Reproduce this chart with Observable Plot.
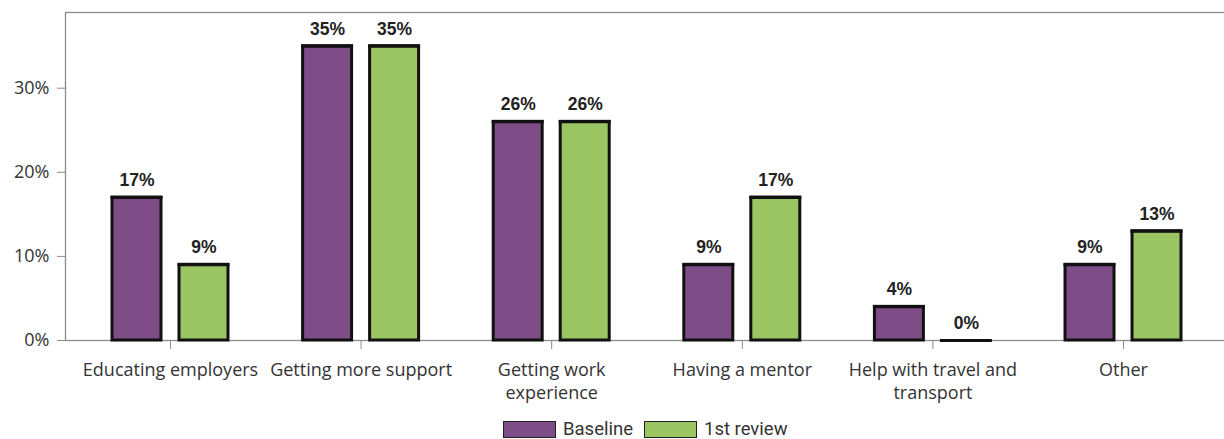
<!DOCTYPE html>
<html>
<head>
<meta charset="utf-8">
<script src="https://cdn.jsdelivr.net/npm/d3@7"></script>
<script src="https://cdn.jsdelivr.net/npm/@observablehq/plot@0.6"></script>
<style>
  html, body { margin: 0; padding: 0; background: #fff; overflow: hidden; }
  #chart { width: 1228px; }
  #chart svg { max-width: none; }
  .legend { display: flex; align-items: center; justify-content: flex-start; padding-left: 503px; padding-top: 4px; height: 26px;
            font-family: Roboto, "Open Sans", sans-serif; font-size: 18.5px; color: #333; }
  .legend .sw { width: 51px; height: 15px; border: 1px solid #222; margin-right: 7px; }
  .legend .item { display: flex; align-items: center; margin-right: 11px; }
</style>
</head>
<body>
<div id="chart"></div>
<script>
const categories = ["Educating employers", "Getting more support", "Getting work experience", "Having a mentor", "Help with travel and transport", "Other"];
const tickLabels = ["Educating employers", "Getting more support", "Getting work\nexperience", "Having a mentor", "Help with travel and\ntransport", "Other"];
const baseline = [17, 35, 26, 9, 4, 9];
const review = [9, 35, 26, 17, 0, 13];
const seriesNames = ["Baseline", "1st review"];
const colors = ["#7e4c86", "#9bc462"];
const yTicks = [0, 10, 20, 30];

const data = categories.map((c, i) => ({category: c, baseline: baseline[i], review: review[i]}));
const labelOf = new Map(categories.map((c, i) => [c, tickLabels[i]]));
const off = 33.5;

const barOpts = (key, color, dx) => [
  Plot.barY(data, {x: "category", y: key, fill: color, stroke: "#111", strokeWidth: 3, dx}),
  Plot.tickY(data, {x: "category", y: key, stroke: "#111", strokeWidth: 3, strokeLinecap: "square", dx}),
  Plot.text(data, {x: "category", y: key, text: d => d[key] + "%", dx, dy: -17,
    fontWeight: "bold", fontSize: 17.5, fill: "#222", fontFamily: "'Liberation Sans', Arial, sans-serif"})
];

const plot = Plot.plot({
  width: 1228,
  height: 412,
  marginLeft: 65,
  marginRight: 3,
  marginTop: 12,
  marginBottom: 72,
  style: {fontFamily: "'Open Sans', sans-serif", fontSize: "18px", color: "#333", background: "#fff", maxWidth: "none"},
  x: {domain: categories, paddingInner: 0.743, paddingOuter: 0.4145, align: 0.5095, round: false, label: null, axis: null},
  y: {domain: [0, 39], label: null, axis: null},
  marks: [
    Plot.frame({stroke: "#8c8c8c", strokeWidth: 1.3}),
    Plot.axisY({ticks: yTicks, tickFormat: d => d + "%", tickSize: 8, tickPadding: 8, stroke: "#8c8c8c", fill: "#333", label: null, fontSize: 18}),
    Plot.axisX({tickSize: 9, tickPadding: 9, tickFormat: d => labelOf.get(d), stroke: "#8c8c8c", fill: "#333", label: null, lineHeight: 1.33, fontSize: 18}),
    ...barOpts("baseline", colors[0], -off),
    ...barOpts("review", colors[1], off)
  ]
});
document.getElementById("chart").appendChild(plot);

const legend = document.createElement("div");
legend.className = "legend";
seriesNames.forEach((name, i) => {
  const item = document.createElement("div");
  item.className = "item";
  const sw = document.createElement("div");
  sw.className = "sw";
  sw.style.background = colors[i];
  const t = document.createElement("span");
  t.textContent = name;
  item.appendChild(sw);
  item.appendChild(t);
  legend.appendChild(item);
});
document.getElementById("chart").appendChild(legend);
</script>
</body>
</html>
